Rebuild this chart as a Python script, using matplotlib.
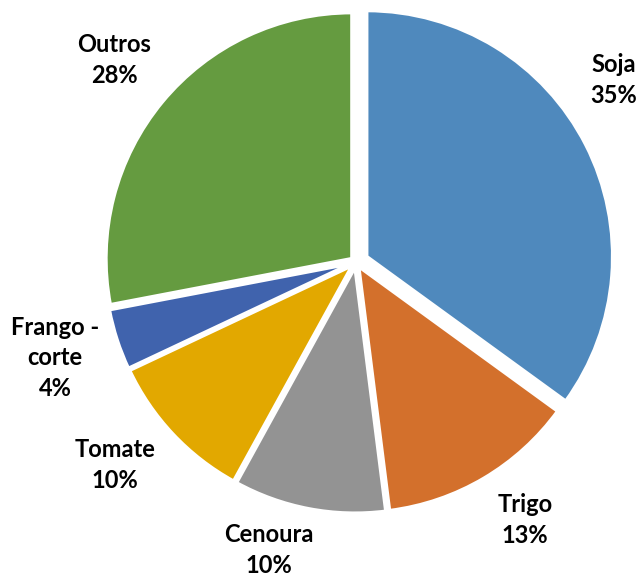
import matplotlib
matplotlib.use("Agg")
import matplotlib.pyplot as plt

categories = ["Soja", "Trigo", "Cenoura", "Tomate", "Frango -\ncorte", "Outros"]
values = [35, 13, 10, 10, 4, 28]
colors = ["#4F89BD", "#D3702C", "#939393", "#E2A800", "#4063AD", "#659B40"]
explode = [0.05, 0.022, 0.022, 0.022, 0.022, 0.022]
label_pos = [(1.075, 0.758), (0.704, -1.075), (-0.363, -1.20),
             (-1.004, -0.846), (-1.254, -0.40), (-1.008, 0.842)]

W, H = 642, 578
fig = plt.figure(figsize=(W / 100, H / 100), dpi=100)
ax = fig.add_axes([0, 0, 1, 1])
cx, cy, r = 356, 262, 240

wedges, texts = ax.pie(values, colors=colors, explode=explode, startangle=90,
                       counterclock=False, radius=1.025,
                       labels=[f"{c}\n{v}%" for c, v in zip(categories, values)],
                       wedgeprops=dict(edgecolor="white", linewidth=2.5),
                       frame=True)
ax.set_xlim(-cx / r, (W - cx) / r)
ax.set_ylim(-(H - cy) / r, cy / r)
ax.set_aspect("auto")
ax.axis("off")
for t, p in zip(texts, label_pos):
    t.set_position(p)
    t.set_ha("center")
    t.set_va("center")
    t.set_fontfamily("Lato")
    t.set_fontweight("bold")
    t.set_fontsize(17)
    t.set_linespacing(1.42)

fig.savefig("out.png", dpi=100)
